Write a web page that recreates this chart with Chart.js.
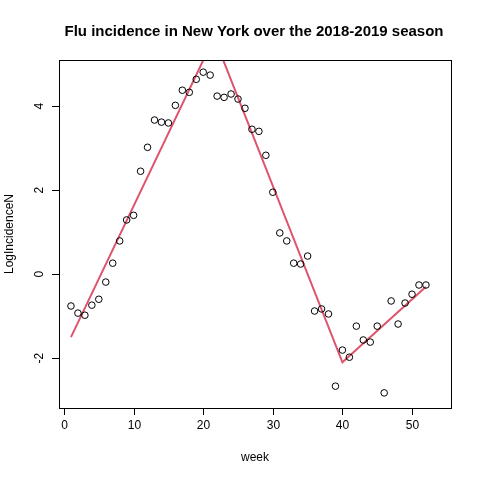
<!DOCTYPE html><html><head><script src="https://cdn.jsdelivr.net/npm/chart.js@4"></script>
<style>body{margin:0;background:#fff}</style></head><body>
<canvas id="c" width="480" height="480" style="width:480px;height:480px"></canvas>
<script>
const weeks=[1,2,3,4,5,6,7,8,9,10,11,12,13,14,15,16,17,18,19,20,21,22,23,24,25,26,27,28,29,30,31,32,33,34,35,36,37,38,39,40,41,42,43,44,45,46,47,48,49,50,51,52];
const logIncidence=[-0.76,-0.93,-0.98,-0.74,-0.60,-0.19,0.26,0.79,1.29,1.40,2.45,3.02,3.67,3.62,3.60,4.02,4.38,4.33,4.64,4.81,4.74,4.24,4.21,4.29,4.17,3.95,3.45,3.40,2.83,1.95,0.98,0.79,0.26,0.24,0.43,-0.88,-0.83,-0.95,-2.67,-1.81,-1.98,-1.24,-1.57,-1.62,-1.24,-2.83,-0.64,-1.19,-0.69,-0.48,-0.26,-0.26];
const fitX=[1,21.58,40,52];
const fitY=[-1.5,5.64,-2.1,-0.3];
const xTicks=[0,10,20,30,40,50];
const yTicks=[-2,0,2,4];
const F='"Liberation Sans", Arial, sans-serif';
const deco={id:'deco',afterDraw(ch){const c=ch.ctx,a=ch.chartArea,xs=ch.scales.x,ys=ch.scales.y;
c.save();c.strokeStyle='#000';c.lineWidth=1;c.strokeRect(a.left+0.5,a.top+0.5,a.right-a.left,a.bottom-a.top);
c.fillStyle='#000';c.font='12px '+F;c.textAlign='center';c.textBaseline='top';
c.beginPath();const x0=xs.getPixelForValue(xTicks[0]),x1=xs.getPixelForValue(xTicks[xTicks.length-1]);
c.moveTo(x0,a.bottom+0.5);c.lineTo(x1,a.bottom+0.5);
xTicks.forEach(t=>{const p=Math.round(xs.getPixelForValue(t))+0.5;c.moveTo(p,a.bottom);c.lineTo(p,a.bottom+7);c.fillText(String(t),p,a.bottom+12);});
const y0=ys.getPixelForValue(yTicks[0]),y1=ys.getPixelForValue(yTicks[yTicks.length-1]);
c.moveTo(a.left+0.5,y0);c.lineTo(a.left+0.5,y1);
yTicks.forEach(t=>{const p=Math.round(ys.getPixelForValue(t))+0.5;c.moveTo(a.left,p);c.lineTo(a.left-7,p);});
c.stroke();
yTicks.forEach(t=>{const p=ys.getPixelForValue(t);c.save();c.translate(a.left-19,p);c.rotate(-Math.PI/2);c.textBaseline='bottom';c.fillText(String(t),0,6);c.restore();});
c.fillText('week',(a.left+a.right)/2,452);
c.save();c.translate(10,(a.top+a.bottom)/2);c.rotate(-Math.PI/2);c.textBaseline='middle';c.fillText('LogIncidenceN',0,0);c.restore();
c.font='bold 15px '+F;c.textBaseline='middle';c.fillText('Flu incidence in New York over the 2018-2019 season',254,32);
c.restore();}};
new Chart(document.getElementById('c'),{type:'scatter',
data:{datasets:[
{data:weeks.map((w,i)=>({x:w,y:logIncidence[i]})),pointStyle:'circle',pointRadius:3.3,borderColor:'#000',backgroundColor:'rgba(0,0,0,0)',borderWidth:1,pointHoverRadius:3.3},
{type:'line',data:fitX.map((x,i)=>({x:x,y:fitY[i]})),borderColor:'#DF536B',borderWidth:2,pointRadius:0,fill:false,tension:0}
]},
options:{responsive:false,animation:false,devicePixelRatio:1,
layout:{padding:{top:60,right:29,left:0,bottom:0}},
plugins:{legend:{display:false},tooltip:{enabled:false}},
scales:{
x:{type:'linear',min:-0.72,max:55.6,grid:{display:false},border:{display:false},ticks:{display:false},afterFit(s){s.height=72;}},
y:{type:'linear',min:-3.19,max:5.1,grid:{display:false},border:{display:false},ticks:{display:false},afterFit(s){s.width=59;}}
}},plugins:[deco]});
</script></body></html>
